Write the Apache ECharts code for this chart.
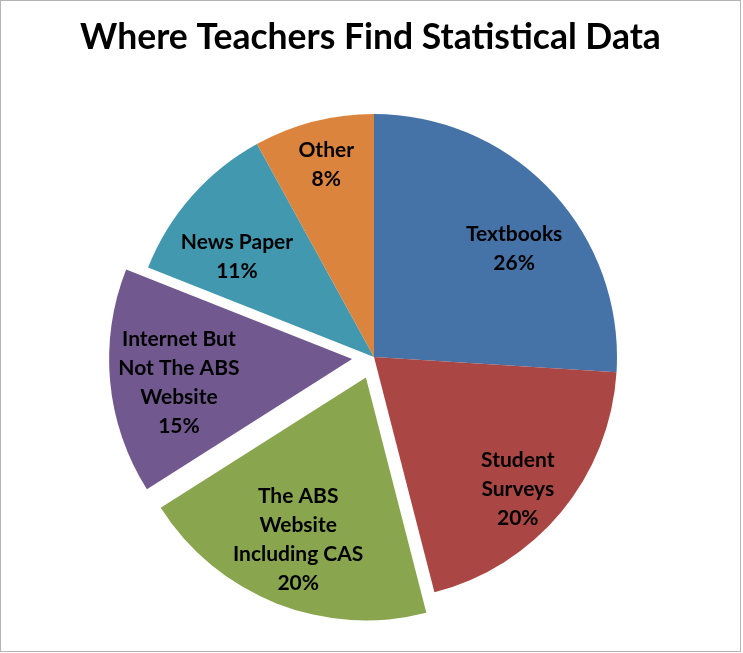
<!DOCTYPE html>
<html>
<head>
<meta charset="utf-8">
<script src="https://cdn.jsdelivr.net/npm/echarts@6/dist/echarts.min.js"></script>
<style>
  body { margin: 0; background: #fff; }
  #chart { width: 741px; height: 652px; box-sizing: border-box; border: 1px solid #b4b4b4; }
</style>
</head>
<body>
<div id="chart"></div>
<script>
var categories = ['Textbooks', 'Student Surveys', 'The ABS Website Including CAS',
                  'Internet But Not The ABS Website', 'News Paper', 'Other'];
var labelLines = ['Textbooks', 'Student\nSurveys', 'The ABS\nWebsite\nIncluding CAS',
                  'Internet But\nNot The ABS\nWebsite', 'News Paper', 'Other'];
var values = [26, 20, 20, 15, 11, 8];
var exploded = [false, false, true, true, false, false];
var colors = ['#4572A7', '#AA4643', '#89A54E', '#71588F', '#4198AF', '#DB843D'];
// small nudges so the labels sit where Excel put them
var labelNudge = [[6, 18], [2, 15], [0, -9], [10, 6], [1, 21], [-2, -14]];

var pieData = [];
var labelData = [];
for (var i = 0; i < categories.length; i++) {
  pieData.push({ name: categories[i], value: values[i], selected: exploded[i],
                 itemStyle: { color: colors[i] } });
  labelData.push({ name: categories[i], value: values[i], selected: exploded[i],
                   text: labelLines[i],
                   label: { offset: labelNudge[i] },
                   select: { label: { offset: labelNudge[i] } } });
}

var myChart = echarts.init(document.getElementById('chart'));

var option = {
  backgroundColor: '#fff',
  animation: false,
  title: {
    text: 'Where Teachers Find Statistical Data',
    left: 'center',
    top: 14,
    textStyle: { fontFamily: 'Lato', fontWeight: 'bold', fontSize: 35.5, color: '#000' }
  },
  series: [
    {
      type: 'pie',
      center: [373, 356],
      radius: [0, 243],
      startAngle: 90,
      selectedMode: 'multiple',
      selectedOffset: 22,
      silent: true,
      label: { show: false },
      labelLine: { show: false },
      itemStyle: { borderWidth: 0 },
      emphasis: { disabled: true },
      data: pieData
    },
    {
      // transparent twin pie, only used to put the labels further out
      type: 'pie',
      center: [373, 356],
      radius: [0, 362],
      startAngle: 90,
      selectedMode: 'multiple',
      selectedOffset: 22,
      silent: true,
      itemStyle: { color: 'rgba(0,0,0,0)' },
      emphasis: { disabled: true },
      labelLine: { show: false },
      label: {
        show: true,
        position: 'inside',
        fontFamily: 'Lato',
        fontWeight: 'bold',
        fontSize: 21,
        lineHeight: 29,
        color: '#000',
        formatter: function (p) { return p.data.text + '\n' + p.value + '%'; }
      },
      data: labelData
    }
  ]
};

myChart.setOption(option);
</script>
</body>
</html>
